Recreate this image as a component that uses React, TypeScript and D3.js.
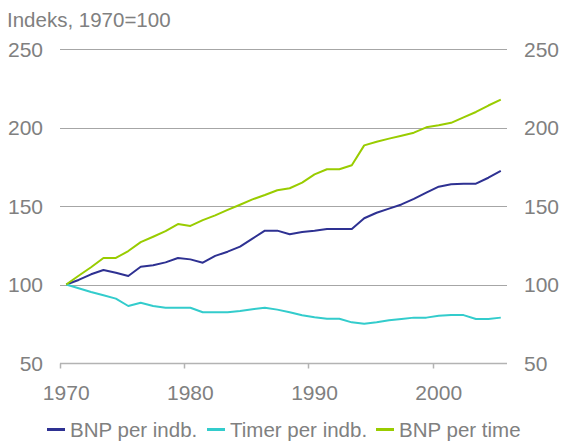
import React, { useRef, useEffect } from 'react';
import * as d3 from 'd3';

const years = [
  1970, 1971, 1972, 1973, 1974, 1975, 1976, 1977, 1978, 1979,
  1980, 1981, 1982, 1983, 1984, 1985, 1986, 1987, 1988, 1989,
  1990, 1991, 1992, 1993, 1994, 1995, 1996, 1997, 1998, 1999,
  2000, 2001, 2002, 2003, 2004, 2005,
];

const bnpPerIndb = [
  100, 102.9, 106.5, 109.2, 107.5, 105.4, 111.3, 112.2, 114.1, 116.9,
  116, 113.9, 118.2, 120.9, 124.1, 129.2, 134.3, 134.3, 132, 133.4,
  134.3, 135.4, 135.4, 135.4, 142.2, 145.7, 148.3, 151, 154.5, 158.5,
  162.3, 163.8, 164.2, 164.2, 168, 172.3,
];

const timerPerIndb = [
  100, 97.6, 95.2, 93.1, 91, 86.3, 88.4, 86.3, 85.2, 85.2,
  85.2, 82.3, 82.3, 82.3, 83.1, 84.2, 85.2, 84, 82.3, 80.4,
  79.1, 78.2, 78.2, 75.9, 75, 75.9, 77.2, 78, 78.9, 78.9,
  80.1, 80.5, 80.5, 78, 78, 78.9,
];

const bnpPerTime = [
  100, 105.6, 111, 116.9, 116.9, 121.3, 127, 130.4, 134, 138.5,
  137.3, 141, 144, 147.5, 150.8, 154.2, 157, 160, 161.3, 164.9,
  170.1, 173.4, 173.4, 176, 188.6, 190.9, 192.9, 194.8, 196.7, 200.1,
  201.4, 203, 206.5, 209.9, 214, 217.7,
];

const seriesNames = ['BNP per indb.', 'Timer per indb.', 'BNP per time'];
const seriesColors = ['#2e3192', '#33cccc', '#99cc00'];
const yTicks = [50, 100, 150, 200, 250];
const xLabels = [1970, 1980, 1990, 2000];

const App: React.FC = () => {
  const ref = useRef<SVGSVGElement | null>(null);

  useEffect(() => {
    if (!ref.current) return;
    const svg = d3.select(ref.current);
    svg.selectAll('*').remove();

    const width = 562;
    const height = 441;
    const margin = { top: 49, right: 55, bottom: 78, left: 60 };
    const font = 'Liberation Sans, Arial, sans-serif';
    const grey = '#808080';

    svg.attr('width', width).attr('height', height);

    const x = d3.scaleBand<number>()
      .domain(years)
      .range([margin.left, width - margin.right])
      .padding(0);
    const y = d3.scaleLinear()
      .domain([50, 250])
      .range([height - margin.bottom, margin.top]);

    const cx = (yr: number) => (x(yr) as number) + x.bandwidth() / 2;

    // gridlines
    svg.append('g')
      .selectAll('line')
      .data(yTicks.filter(t => t > 50))
      .enter()
      .append('line')
      .attr('x1', margin.left)
      .attr('x2', width - margin.right)
      .attr('y1', d => Math.round(y(d)) + 0.5)
      .attr('y2', d => Math.round(y(d)) + 0.5)
      .attr('stroke', '#a6a6a6')
      .attr('stroke-width', 1);

    // bottom axis line + ticks
    const axisY = Math.round(y(50)) + 0.5;
    svg.append('line')
      .attr('x1', margin.left)
      .attr('x2', width - margin.right)
      .attr('y1', axisY)
      .attr('y2', axisY)
      .attr('stroke', '#b3b3b3')
      .attr('stroke-width', 1.5);

    svg.append('g')
      .selectAll('line')
      .data(xLabels)
      .enter()
      .append('line')
      .attr('x1', d => Math.round(x(d) as number) + 0.5)
      .attr('x2', d => Math.round(x(d) as number) + 0.5)
      .attr('y1', axisY)
      .attr('y2', axisY + 5)
      .attr('stroke', '#b3b3b3')
      .attr('stroke-width', 1.5);

    // y labels, left and right
    const labels = svg.append('g')
      .attr('font-family', font)
      .attr('font-size', 21)
      .attr('fill', grey);

    labels.selectAll('text.left')
      .data(yTicks)
      .enter()
      .append('text')
      .attr('class', 'left')
      .attr('x', 43)
      .attr('y', d => y(d) + 7.5)
      .attr('text-anchor', 'end')
      .text(d => d);

    labels.selectAll('text.right')
      .data(yTicks)
      .enter()
      .append('text')
      .attr('class', 'right')
      .attr('x', 524)
      .attr('y', d => y(d) + 7.5)
      .attr('text-anchor', 'start')
      .text(d => d);

    labels.selectAll('text.x')
      .data(xLabels)
      .enter()
      .append('text')
      .attr('class', 'x')
      .attr('x', d => cx(d))
      .attr('y', 400)
      .attr('text-anchor', 'middle')
      .text(d => d);

    // title
    svg.append('text')
      .attr('x', 7)
      .attr('y', 27)
      .attr('font-family', font)
      .attr('font-size', 20.5)
      .attr('fill', grey)
      .text('Indeks, 1970=100');

    // lines
    const allSeries = [bnpPerIndb, timerPerIndb, bnpPerTime];
    const line = d3.line<number>()
      .x((_, i) => cx(years[i]))
      .y(d => y(d));

    allSeries.forEach((s, i) => {
      svg.append('path')
        .datum(s)
        .attr('d', line)
        .attr('fill', 'none')
        .attr('stroke', seriesColors[i])
        .attr('stroke-width', 2)
        .attr('stroke-linejoin', 'round');
    });

    // legend
    const legendX = [47, 207, 376];
    const legend = svg.append('g')
      .attr('font-family', font)
      .attr('font-size', 20.5)
      .attr('fill', grey);

    seriesNames.forEach((name, i) => {
      legend.append('line')
        .attr('x1', legendX[i])
        .attr('x2', legendX[i] + 18)
        .attr('y1', 429.5)
        .attr('y2', 429.5)
        .attr('stroke', seriesColors[i])
        .attr('stroke-width', 3);
      legend.append('text')
        .attr('x', legendX[i] + 23)
        .attr('y', 436.5)
        .text(name);
    });
  }, []);

  return <svg ref={ref} style={{ position: 'absolute', left: 0, top: 0 }}></svg>;
};

export default App;
